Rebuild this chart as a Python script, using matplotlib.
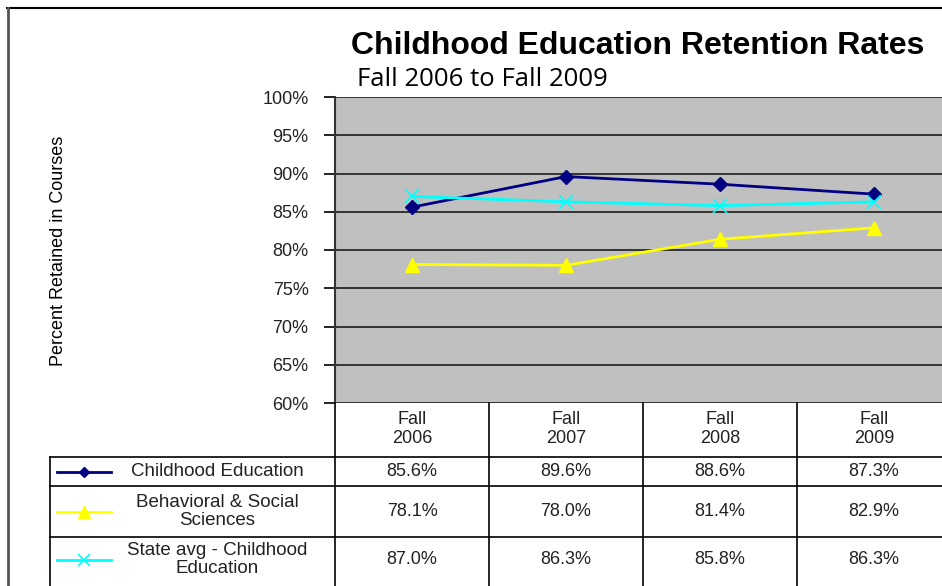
import matplotlib.pyplot as plt
from matplotlib.transforms import blended_transform_factory
from matplotlib.lines import Line2D

plt.rcParams['font.family'] = ['Liberation Sans', 'DejaVu Sans']

categories = ["Fall\n2006", "Fall\n2007", "Fall\n2008", "Fall\n2009"]
series_names = ["Childhood Education", "Behavioral & Social\nSciences",
                "State avg - Childhood\nEducation"]
childhood = [85.6, 89.6, 88.6, 87.3]
behavioral = [78.1, 78.0, 81.4, 82.9]
state_avg = [87.0, 86.3, 85.8, 86.3]
yticks = [60, 65, 70, 75, 80, 85, 90, 95, 100]

styles = [
    dict(color="#000080", marker="D", markersize=7),
    dict(color="#FFFF00", marker="^", markersize=10),
    dict(color="#00FFFF", marker="x", markersize=10, markeredgewidth=1.2),
]
all_series = [childhood, behavioral, state_avg]

W, H = 942, 586
fig = plt.figure(figsize=(W / 100, H / 100), dpi=100)

def fx(px):
    return px / W

def fy(py):
    return 1 - py / H

# plot area (right edge runs off the picture as in the reference)
ax = fig.add_axes([fx(335), fy(403), fx(951) - fx(335), fy(97) - fy(403)])
ax.set_facecolor("#C0C0C0")
x = list(range(len(categories)))
for vals, st in zip(all_series, styles):
    ax.plot(x, vals, linewidth=2, zorder=3, **st)

ax.set_xlim(-0.5, len(categories) - 0.5)
ax.set_ylim(60, 100)
ax.set_yticks(yticks)
ax.set_yticklabels([f"{t}%" for t in yticks], fontsize=13, color="#222222")
ax.yaxis.grid(True, color="#333333", linewidth=1.4)
ax.set_axisbelow(True)
ax.set_xticks([])
ax.tick_params(axis="y", direction="out", length=8, width=1.2, pad=11)
for s in ["top", "right", "bottom"]:
    ax.spines[s].set_visible(False)
ax.spines["left"].set_linewidth(1.5)
ax.spines["left"].set_color("#333333")

# frame of the chart
fig.add_artist(Line2D([fx(7), 1], [fy(8), fy(8)], color="black", linewidth=1.5))
fig.add_artist(Line2D([fx(7.5), fx(7.5)], [fy(8), 0], color="#555555", linewidth=2))

fig.text(fx(638), fy(46.5), "Childhood Education Retention Rates", ha="center",
         va="center", fontsize=23, fontweight="bold")
fig.text(fx(357), fy(80), "Fall 2006 to Fall 2009", ha="left", va="center",
         fontsize=18.5, family=["Open Sans", "DejaVu Sans"])
fig.text(fx(59), fy(251), "Percent Retained in Courses", rotation=90,
         ha="center", va="center", fontsize=13,
         family=["Liberation Sans Narrow", "Liberation Sans"])

# data table below the plot
tr = blended_transform_factory(ax.transData, fig.transFigure)
row_lines = [403, 457, 486, 537]
row_bottom = [457, 486, 537, 582]
lw = 1.2
for i in range(len(categories) + 1):
    xi = i - 0.5
    fig.add_artist(Line2D([xi, xi], [fy(403), 0], transform=tr, color="black", linewidth=lw))
for py in row_lines[1:]:
    fig.add_artist(Line2D([fx(50), 1], [fy(py), fy(py)], color="black", linewidth=lw))
fig.add_artist(Line2D([fx(50), fx(50)], [fy(457), 0], color="black", linewidth=lw))

for i, c in enumerate(categories):
    fig.text(i, fy(429), c, transform=tr, ha="center", va="center", fontsize=13,
             color="#222222", linespacing=1.15)

for r, (name, vals, st) in enumerate(zip(series_names, all_series, styles)):
    yc = fy((row_lines[r + 1] + row_bottom[r + 1]) / 2)
    for i, v in enumerate(vals):
        fig.text(i, yc, f"{v:.1f}%", transform=tr, ha="center", va="center",
                 fontsize=13, color="#222222")
    # legend key: line with a single marker in the middle
    key = dict(st)
    key["markersize"] = key["markersize"] * 0.8
    fig.add_artist(Line2D([fx(57), fx(84), fx(111)], [yc, yc, yc], linewidth=2,
                          markevery=[1], **key))
    fig.text(fx(217), yc, name, ha="center", va="center", fontsize=13.5,
             color="#222222", linespacing=1.15)

fig.savefig("out.png", dpi=100)
